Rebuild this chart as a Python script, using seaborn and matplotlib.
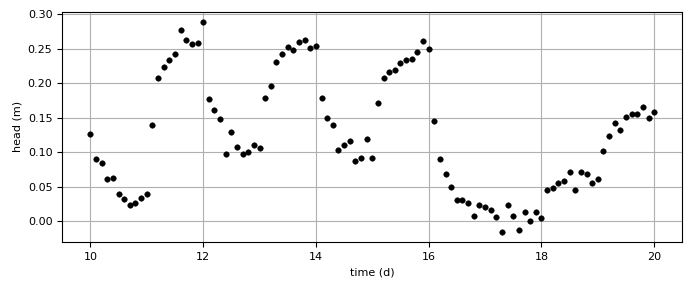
import matplotlib.pyplot as plt
import numpy as np
import pandas as pd
import seaborn as sns
import matplotlib

matplotlib.rcParams['font.size'] = 8
matplotlib.rcParams['font.family'] = ['DejaVu Sans']

# time in days, sampled every 0.1 d
time = [10.0, 10.1, 10.2, 10.3, 10.4, 10.5, 10.6, 10.7, 10.8, 10.9,
        11.0, 11.1, 11.2, 11.3, 11.4, 11.5, 11.6, 11.7, 11.8, 11.9,
        12.0, 12.1, 12.2, 12.3, 12.4, 12.5, 12.6, 12.7, 12.8, 12.9,
        13.0, 13.1, 13.2, 13.3, 13.4, 13.5, 13.6, 13.7, 13.8, 13.9,
        14.0, 14.1, 14.2, 14.3, 14.4, 14.5, 14.6, 14.7, 14.8, 14.9,
        15.0, 15.1, 15.2, 15.3, 15.4, 15.5, 15.6, 15.7, 15.8, 15.9,
        16.0, 16.1, 16.2, 16.3, 16.4, 16.5, 16.6, 16.7, 16.8, 16.9,
        17.0, 17.1, 17.2, 17.3, 17.4, 17.5, 17.6, 17.7, 17.8, 17.9,
        18.0, 18.1, 18.2, 18.3, 18.4, 18.5, 18.6, 18.7, 18.8, 18.9,
        19.0, 19.1, 19.2, 19.3, 19.4, 19.5, 19.6, 19.7, 19.8, 19.9,
        20.0]

head = [0.127, 0.091, 0.084, 0.062, 0.063, 0.039, 0.033, 0.023, 0.027, 0.034,
        0.039, 0.140, 0.208, 0.224, 0.234, 0.243, 0.278, 0.263, 0.257, 0.259,
        0.289, 0.178, 0.162, 0.148, 0.098, 0.129, 0.108, 0.097, 0.100, 0.110,
        0.107, 0.179, 0.197, 0.231, 0.243, 0.253, 0.249, 0.260, 0.263, 0.252,
        0.255, 0.179, 0.150, 0.139, 0.104, 0.111, 0.116, 0.087, 0.092, 0.120,
        0.092, 0.172, 0.208, 0.216, 0.220, 0.230, 0.234, 0.236, 0.246, 0.262,
        0.250, 0.146, 0.091, 0.068, 0.050, 0.031, 0.031, 0.026, 0.008, 0.024,
        0.021, 0.017, 0.007, -0.015, 0.024, 0.008, -0.013, 0.014, 0.000, 0.013,
        0.005, 0.046, 0.049, 0.055, 0.058, 0.071, 0.046, 0.072, 0.068, 0.056,
        0.062, 0.102, 0.124, 0.143, 0.133, 0.152, 0.156, 0.155, 0.166, 0.150,
        0.159]

df = pd.DataFrame({'time': time, 'head': head})

fig, ax = plt.subplots(figsize=(6.91, 2.90), dpi=100)
sns.scatterplot(data=df, x='time', y='head', color='k', s=16, edgecolor=None, ax=ax)
ax.grid(True)
ax.set_axisbelow(True)
ax.set_xlabel('time (d)')
ax.set_ylabel('head (m)')
fig.subplots_adjust(left=0.09, right=0.9875, top=0.96, bottom=0.165)
fig.savefig('out.png', dpi=100)
